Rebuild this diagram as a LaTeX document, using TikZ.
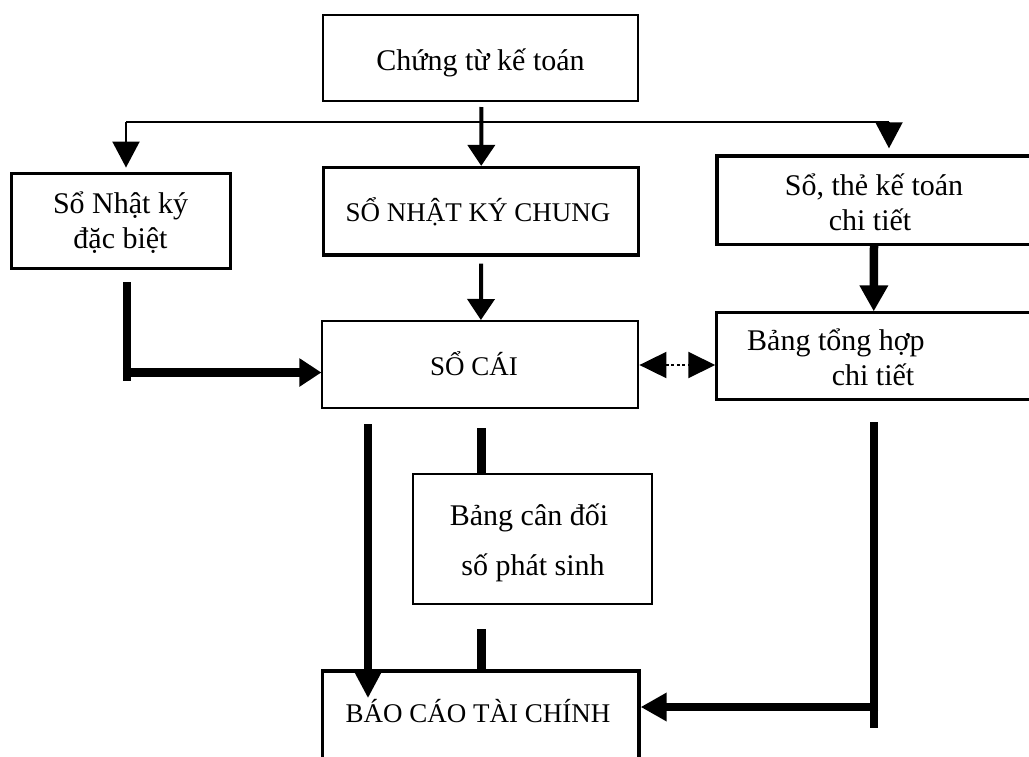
\documentclass[tikz,border=0pt]{standalone}
\usepackage{fontspec}
\setmainfont{Liberation Serif}
\usetikzlibrary{arrows.meta}
\begin{document}
\begin{tikzpicture}[x=1pt,y=-1pt,
  thinbox/.style={draw, line width=2pt, inner sep=0pt},
  thickbox/.style={draw, line width=3.3pt, inner sep=0pt},
  lt/.style={font=\fontsize{30}{36}\selectfont, anchor=base, inner sep=0pt},
  ct/.style={font=\fontsize{27}{32}\selectfont, anchor=base, inner sep=0pt},
  thinline/.style={line width=2pt},
  medline/.style={line width=4pt},
  heavyline/.style={line width=8.5pt},
  bigtip/.style={-{Triangle[width=27pt,length=26pt]}},
  medtip/.style={-{Triangle[width=27pt,length=21pt]}},
]
\useasboundingbox (0,0) rectangle (1029,756);
\begin{scope}
\clip (0,0) rectangle (1029,756);
% boxes
\node[thinbox, minimum width=315pt, minimum height=86pt] (ctkt) at (480.5,58) {};
\node[thickbox, minimum width=219pt, minimum height=95pt] (db) at (121,220.7) {};
\node[thickbox, minimum width=315pt, minimum height=87.5pt] (nkc) at (480.7,211.3) {};
\node[thickbox, minimum width=314pt, minimum height=88.5pt] (st) at (874,200.2) {};
\node[thinbox, minimum width=316pt, minimum height=87pt] (sc) at (480.4,364.5) {};
\node[thinbox, line width=2.5pt, minimum width=314.5pt, minimum height=86.7pt] (btv) at (873.75,356) {};
\node[thinbox, minimum width=239pt, minimum height=130.7pt] (bcd) at (532.5,539) {};
\node[thickbox, minimum width=316.5pt, minimum height=119pt] (bc) at (480.75,730.4) {};

% texts
\node[lt] (ctkt-t) at (480.5,70) {Chứng từ kế toán};
\node[lt] (db-t1) at (120.5,213) {Sổ Nhật ký};
\node[lt] (db-t2) at (120.5,248) {đặc biệt};
\node[ct] (nkc-t) at (478,221) {SỔ NHẬT KÝ CHUNG};
\node[lt] (st-t1) at (874,195) {Sổ, thẻ kế toán};
\node[lt] (st-t2) at (870,230) {chi tiết};
\node[ct] (sc-t) at (474,375) {SỔ CÁI};
\node[lt, anchor=base west] (btv-t1) at (747,350) {Bảng tổng hợp};
\node[lt] (btv-t2) at (873,385) {chi tiết};
\node[lt] (bcd-t1) at (529,525) {Bảng cân đối};
\node[lt] (bcd-t2) at (533,575) {số phát sinh};
\node[ct] (bc-t) at (478,722) {BÁO CÁO TÀI CHÍNH};

% connector coordinates
\coordinate (jL) at (126,121.7);
\coordinate (jR) at (889,121.7);
\coordinate (dA) at (127,282);
\coordinate (dB) at (127,381);
\coordinate (dC) at (127,372.5);
\coordinate (dot) at (660,365);
\coordinate (rA) at (874,422);
\coordinate (rB) at (874,728);
\coordinate (rC) at (874,707);
\coordinate (scs) at ([xshift=1pt]sc.south);
\coordinate (bcn) at ([xshift=0.5pt]bc.north);

% top distribution
\draw[thinline] (jL) -- (jR);
\draw[thinline, bigtip, shorten >=4pt] (jL) -- (jL |- db.north);
\draw[thinline, bigtip, shorten >=6pt] (jR) -- (jR |- st.north);
\draw[medline, medtip, shorten <=5pt] ([xshift=1pt]ctkt.south) -- ([xshift=0.5pt]nkc.north);

% SO NHAT KY CHUNG -> SO CAI
\draw[medline, medtip, shorten <=7pt] ([xshift=0.5pt]nkc.south) -- ([xshift=0.5pt]sc.north);

% So nhat ky dac biet -> SO CAI
\draw[heavyline] (dA) -- (dB);
\draw[heavyline, -{Triangle[width=27pt,length=22pt]}] ([xshift=-4.25pt]dC) -- (dC -| sc.west);

% dotted double arrow
\draw[thinline, dash pattern=on 3pt off 2.5pt,
  {Triangle[width=26pt,length=27pt]}-{Triangle[width=26pt,length=27pt]}]
  (dot -| sc.east) -- (dot -| btv.west);

% So the -> Bang tong hop
\draw[heavyline, bigtip] (st.south) -- (btv.north);

% SO CAI -> BAO CAO (left)
\draw[heavyline, -{Triangle[width=27pt,length=28pt]}]
  ([xshift=-112.4pt,yshift=-15pt]sc.south) -- ([xshift=-112.75pt,yshift=-29pt]bc.north);

% SO CAI -> Bang can doi
\draw[heavyline, shorten <=19pt] (scs) -- (bcd.north -| scs);

% Bang can doi -> BAO CAO
\draw[heavyline, shorten <=24pt] (bcd.south -| bcn) -- (bcn);

% Bang tong hop -> BAO CAO (right)
\draw[heavyline] (rA) -- (rB);
\draw[heavyline, bigtip] ([xshift=4.25pt]rC) -- (rC -| bc.east);
\end{scope}
\end{tikzpicture}
\end{document}
